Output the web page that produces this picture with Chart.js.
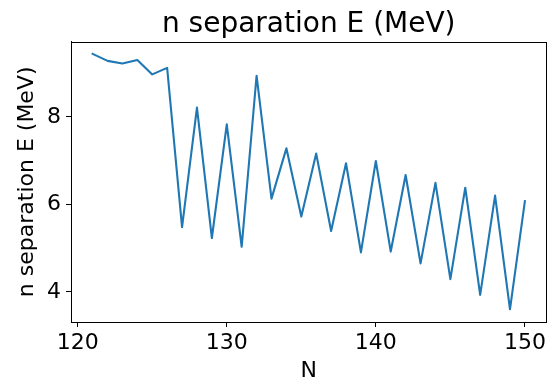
<!DOCTYPE html>
<html>
<head>
<meta charset="utf-8">
<script src="https://cdn.jsdelivr.net/npm/chart.js@4/dist/chart.umd.min.js"></script>
<style>
html,body{margin:0;padding:0;background:#fff;}
canvas{display:block;}
</style>
</head>
<body>
<canvas id="c" width="549" height="378"></canvas>
<script>
const neutronNumbers = [121,122,123,124,125,126,127,128,129,130,131,132,133,134,135,136,137,138,139,140,141,142,143,144,145,146,147,148,149,150];
const separationEnergy = [9.44,9.28,9.22,9.30,8.97,9.12,5.48,8.21,5.23,7.83,5.03,8.94,6.13,7.28,5.72,7.16,5.39,6.94,4.90,6.99,4.92,6.67,4.65,6.49,4.29,6.38,3.93,6.20,3.60,6.07];
const xTicks = [120,130,140,150];
const yTicks = [4,6,8];

const FONT = "'DejaVu Sans', sans-serif";

const frame = {
  id: 'frame',
  afterDatasetsDraw(chart) {
    const a = chart.chartArea, ctx = chart.ctx;
    ctx.save();
    ctx.strokeStyle = '#000';
    ctx.lineWidth = 1;
    ctx.strokeRect(Math.round(a.left) + 0.5, Math.round(a.top) + 0.5, Math.round(a.right - a.left) - 1, Math.round(a.bottom - a.top));
    ctx.restore();
  }
};

new Chart(document.getElementById('c'), {
  type: 'line',
  data: {
    datasets: [{
      data: neutronNumbers.map((n, i) => ({x: n, y: separationEnergy[i]})),
      borderColor: '#1f77b4',
      borderWidth: 2.1,
      borderJoinStyle: 'round',
      borderCapStyle: 'square',
      pointRadius: 0,
      tension: 0,
      fill: false
    }]
  },
  options: {
    responsive: false,
    animation: false,
    devicePixelRatio: 1,
    layout: {padding: {left: 0, right: 2, top: 0, bottom: 0}},
    plugins: {
      legend: {display: false},
      tooltip: {enabled: false},
      title: {
        display: true,
        fullSize: false,
        text: 'n separation E (MeV)',
        color: '#000',
        font: {family: FONT, size: 28, weight: 'normal', lineHeight: 1.2},
        padding: {top: 8, bottom: 0}
      }
    },
    scales: {
      x: {
        type: 'linear',
        min: 119.55,
        max: 151.45,
        afterFit(s) { s.height = 56; },
        afterBuildTicks(s) { s.ticks = xTicks.map(v => ({value: v})); },
        grid: {drawOnChartArea: false, drawTicks: true, tickLength: 5, color: '#000', tickWidth: 1},
        border: {display: true, color: '#000', width: 1},
        ticks: {color: '#000', padding: 3, maxRotation: 0, font: {family: FONT, size: 22}},
        title: {display: true, text: 'N', color: '#000', font: {family: FONT, size: 22, lineHeight: 0.6}, padding: {top: 0, bottom: 0}}
      },
      y: {
        type: 'linear',
        min: 3.31,
        max: 9.72,
        afterFit(s) { s.width = 71; },
        afterBuildTicks(s) { s.ticks = yTicks.map(v => ({value: v})); },
        grid: {drawOnChartArea: false, drawTicks: true, tickLength: 5, color: '#000', tickWidth: 1},
        border: {display: true, color: '#000', width: 1},
        ticks: {color: '#000', padding: 5, font: {family: FONT, size: 22}},
        title: {display: true, text: 'n separation E (MeV)', color: '#000', font: {family: FONT, size: 22, lineHeight: 1}, padding: {top: 16, bottom: 0}}
      }
    }
  },
  plugins: [frame]
});
</script>
</body>
</html>
